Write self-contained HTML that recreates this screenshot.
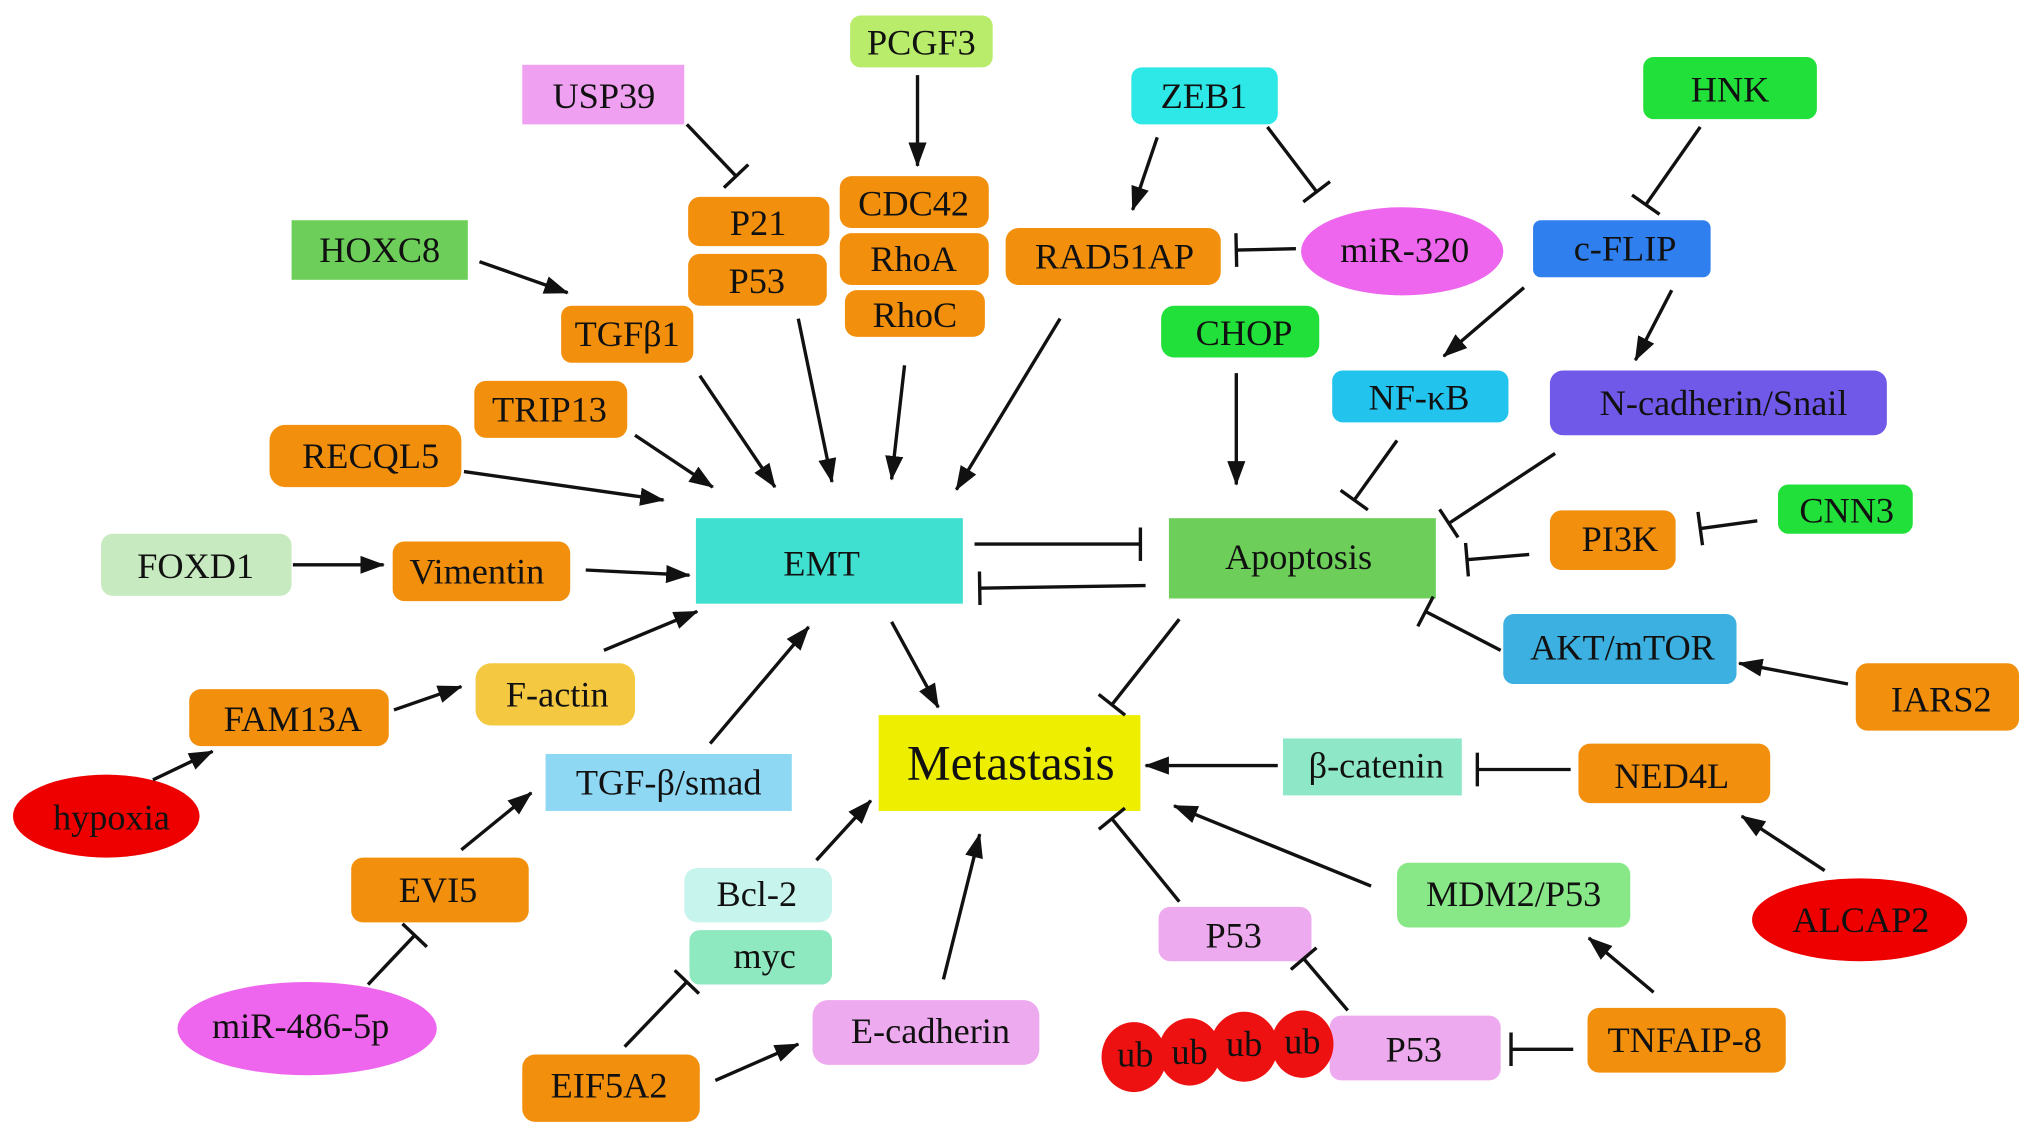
<!DOCTYPE html>
<html><head><meta charset="utf-8"><style>
html,body{margin:0;padding:0;background:#fff;}
svg{display:block;}
text{font-family:"Liberation Serif",serif;font-size:28px;fill:#111;text-anchor:middle;dominant-baseline:central;}
line{stroke:#111;stroke-width:2.6;}
</style></head><body>
<svg width="2032" height="1140" viewBox="0 0 1568 880" preserveAspectRatio="none" xmlns="http://www.w3.org/2000/svg">
<defs>
<marker id="a" markerUnits="userSpaceOnUse" markerWidth="20" markerHeight="16" refX="18" refY="8" orient="auto"><path d="M0,1 L19,8 L0,15 Z" fill="#111"/></marker>
<marker id="b" markerUnits="userSpaceOnUse" markerWidth="6" markerHeight="26" refX="3" refY="13" orient="auto"><path d="M3,0 L3,26" stroke="#111" stroke-width="2.6"/></marker>
</defs>
<g>
<!-- nodes -->
<rect x="403" y="50" width="125" height="46" fill="#f0a0f0"/><text x="466" y="74">USP39</text>
<rect x="656" y="12" width="110" height="40" rx="8" fill="#b8ec6a"/><text x="711" y="33">PCGF3</text>
<rect x="873" y="52" width="113" height="44" rx="8" fill="#2ee8e8"/><text x="929" y="74">ZEB1</text>
<rect x="1268" y="44" width="134" height="48" rx="8" fill="#22e03a"/><text x="1335" y="69">HNK</text>
<rect x="531" y="152" width="109" height="38" rx="9" fill="#f2900e"/><text x="585" y="172">P21</text>
<rect x="531" y="196" width="107" height="40" rx="9" fill="#f2900e"/><text x="584" y="217">P53</text>
<rect x="648" y="136" width="115" height="40" rx="9" fill="#f2900e"/><text x="705" y="157">CDC42</text>
<rect x="648" y="180" width="115" height="40" rx="9" fill="#f2900e"/><text x="705" y="200">RhoA</text>
<rect x="652" y="224" width="108" height="36" rx="9" fill="#f2900e"/><text x="706" y="243">RhoC</text>
<rect x="225" y="170" width="136" height="46" fill="#6dcf5a"/><text x="293" y="193">HOXC8</text>
<rect x="433" y="236" width="102" height="44" rx="8" fill="#f2900e"/><text x="484" y="258">TGFβ1</text>
<rect x="776" y="176" width="166" height="44" rx="10" fill="#f2900e"/><text x="860" y="198">RAD51AP</text>
<ellipse cx="1082" cy="194" rx="78" ry="34" fill="#ee66ee"/><text x="1084" y="193">miR-320</text>
<rect x="1183" y="170" width="137" height="44" rx="6" fill="#2f7fef"/><text x="1254" y="192">c-FLIP</text>
<rect x="896" y="236" width="122" height="40" rx="10" fill="#22e03a"/><text x="960" y="257">CHOP</text>
<rect x="1028" y="286" width="136" height="40" rx="8" fill="#22c4ee"/><text x="1095" y="307">NF-κB</text>
<rect x="1196" y="286" width="260" height="50" rx="10" fill="#7058e8"/><text x="1330" y="311">N-cadherin/Snail</text>
<rect x="366" y="294" width="118" height="44" rx="9" fill="#f2900e"/><text x="424" y="316">TRIP13</text>
<rect x="208" y="328" width="148" height="48" rx="12" fill="#f2900e"/><text x="286" y="352">RECQL5</text>
<rect x="78" y="412" width="147" height="48" rx="9" fill="#c8eac0"/><text x="151" y="437">FOXD1</text>
<rect x="303" y="418" width="137" height="46" rx="9" fill="#f2900e"/><text x="368" y="441">Vimentin</text>
<rect x="537" y="400" width="206" height="66" fill="#40e0d0"/><text x="634" y="435">EMT</text>
<rect x="902" y="400" width="206" height="62" fill="#6dcf5a"/><text x="1002" y="430">Apoptosis</text>
<rect x="1372" y="374" width="104" height="38" rx="8" fill="#22e03a"/><text x="1425" y="394">CNN3</text>
<rect x="1196" y="394" width="97" height="46" rx="9" fill="#f2900e"/><text x="1250" y="416">PI3K</text>
<rect x="1160" y="474" width="180" height="54" rx="8" fill="#3cb0e0"/><text x="1252" y="500">AKT/mTOR</text>
<rect x="1432" y="512" width="126" height="52" rx="9" fill="#f2900e"/><text x="1498" y="540">IARS2</text>
<rect x="367" y="512" width="123" height="48" rx="12" fill="#f5c842"/><text x="430" y="536">F-actin</text>
<rect x="146" y="532" width="154" height="44" rx="9" fill="#f2900e"/><text x="226" y="555">FAM13A</text>
<ellipse cx="82" cy="630" rx="72" ry="32" fill="#ee0000"/><text x="86" y="631">hypoxia</text>
<rect x="421" y="582" width="190" height="44" fill="#8fd8f4"/><text x="516" y="604">TGF-β/smad</text>
<rect x="678" y="552" width="202" height="74" fill="#eeee00"/><text x="780" y="589" style="font-size:38px">Metastasis</text>
<rect x="990" y="570" width="138" height="44" fill="#8ee8c8"/><text x="1062" y="591">β-catenin</text>
<rect x="1218" y="574" width="148" height="46" rx="9" fill="#f2900e"/><text x="1290" y="599">NED4L</text>
<ellipse cx="1435" cy="710" rx="83" ry="32" fill="#ee0000"/><text x="1436" y="710">ALCAP2</text>
<rect x="271" y="662" width="137" height="50" rx="9" fill="#f2900e"/><text x="338" y="687">EVI5</text>
<rect x="528" y="670" width="114" height="42" rx="10" fill="#c8f4ee"/><text x="584" y="690">Bcl-2</text>
<rect x="532" y="718" width="110" height="42" rx="8" fill="#8ee8c0"/><text x="590" y="738">myc</text>
<rect x="1078" y="666" width="180" height="50" rx="9" fill="#88e888"/><text x="1168" y="690">MDM2/P53</text>
<rect x="894" y="700" width="118" height="42" rx="9" fill="#eeaaee"/><text x="952" y="722">P53</text>
<ellipse cx="237" cy="794" rx="100" ry="36" fill="#ee66ee"/><text x="232" y="792">miR-486-5p</text>
<rect x="627" y="772" width="175" height="50" rx="12" fill="#eeaaee"/><text x="718" y="796">E-cadherin</text>
<rect x="403" y="814" width="137" height="52" rx="10" fill="#f2900e"/><text x="470" y="838">EIF5A2</text>
<rect x="1026" y="784" width="132" height="50" rx="9" fill="#eeaaee"/><text x="1091" y="810">P53</text>
<ellipse cx="875" cy="816" rx="25" ry="27" fill="#ee1111"/><text x="876" y="814">ub</text>
<ellipse cx="918" cy="812" rx="24" ry="26" fill="#ee1111"/><text x="918" y="812">ub</text>
<ellipse cx="960" cy="808" rx="26" ry="27" fill="#ee1111"/><text x="960" y="806">ub</text>
<ellipse cx="1005" cy="806" rx="24" ry="26" fill="#ee1111"/><text x="1005" y="804">ub</text>
<rect x="1225" y="778" width="153" height="50" rx="9" fill="#f2900e"/><text x="1300" y="803">TNFAIP-8</text>
</g>
<g>
<!-- arrows -->
<line x1="530" y1="96" x2="568" y2="136" marker-end="url(#b)"/>
<line x1="708" y1="58" x2="708" y2="128" marker-end="url(#a)"/>
<line x1="893" y1="106" x2="874" y2="162" marker-end="url(#a)"/>
<line x1="978" y1="98" x2="1016" y2="148" marker-end="url(#b)"/>
<line x1="1312" y1="98" x2="1270" y2="158" marker-end="url(#b)"/>
<line x1="370" y1="202" x2="438" y2="226" marker-end="url(#a)"/>
<line x1="1000" y1="192" x2="954" y2="193" marker-end="url(#b)"/>
<line x1="1176" y1="222" x2="1114" y2="275" marker-end="url(#a)"/>
<line x1="1290" y1="224" x2="1262" y2="278" marker-end="url(#a)"/>
<line x1="954" y1="288" x2="954" y2="374" marker-end="url(#a)"/>
<line x1="1078" y1="340" x2="1045" y2="386" marker-end="url(#b)"/>
<line x1="1200" y1="350" x2="1118" y2="404" marker-end="url(#b)"/>
<line x1="540" y1="290" x2="598" y2="376" marker-end="url(#a)"/>
<line x1="616" y1="246" x2="642" y2="372" marker-end="url(#a)"/>
<line x1="698" y1="282" x2="688" y2="370" marker-end="url(#a)"/>
<line x1="818" y1="246" x2="738" y2="378" marker-end="url(#a)"/>
<line x1="490" y1="336" x2="550" y2="376" marker-end="url(#a)"/>
<line x1="358" y1="364" x2="512" y2="386" marker-end="url(#a)"/>
<line x1="226" y1="436" x2="296" y2="436" marker-end="url(#a)"/>
<line x1="452" y1="440" x2="532" y2="444" marker-end="url(#a)"/>
<line x1="752" y1="420" x2="880" y2="420" marker-end="url(#b)"/>
<line x1="884" y1="452" x2="756" y2="454" marker-end="url(#b)"/>
<line x1="1356" y1="402" x2="1312" y2="408" marker-end="url(#b)"/>
<line x1="1180" y1="428" x2="1132" y2="432" marker-end="url(#b)"/>
<line x1="1158" y1="502" x2="1100" y2="472" marker-end="url(#b)"/>
<line x1="1426" y1="528" x2="1342" y2="512" marker-end="url(#a)"/>
<line x1="466" y1="502" x2="538" y2="472" marker-end="url(#a)"/>
<line x1="304" y1="548" x2="356" y2="530" marker-end="url(#a)"/>
<line x1="118" y1="602" x2="164" y2="580" marker-end="url(#a)"/>
<line x1="548" y1="574" x2="624" y2="484" marker-end="url(#a)"/>
<line x1="688" y1="480" x2="724" y2="546" marker-end="url(#a)"/>
<line x1="910" y1="478" x2="858" y2="544" marker-end="url(#b)"/>
<line x1="986" y1="591" x2="884" y2="591" marker-end="url(#a)"/>
<line x1="1212" y1="594" x2="1140" y2="594" marker-end="url(#b)"/>
<line x1="1408" y1="672" x2="1344" y2="630" marker-end="url(#a)"/>
<line x1="356" y1="656" x2="410" y2="612" marker-end="url(#a)"/>
<line x1="284" y1="760" x2="320" y2="722" marker-end="url(#b)"/>
<line x1="630" y1="664" x2="672" y2="618" marker-end="url(#a)"/>
<line x1="728" y1="756" x2="756" y2="644" marker-end="url(#a)"/>
<line x1="910" y1="696" x2="858" y2="632" marker-end="url(#b)"/>
<line x1="1058" y1="684" x2="906" y2="622" marker-end="url(#a)"/>
<line x1="482" y1="808" x2="530" y2="758" marker-end="url(#b)"/>
<line x1="552" y1="834" x2="616" y2="806" marker-end="url(#a)"/>
<line x1="1040" y1="780" x2="1006" y2="740" marker-end="url(#b)"/>
<line x1="1276" y1="766" x2="1226" y2="724" marker-end="url(#a)"/>
<line x1="1214" y1="810" x2="1166" y2="810" marker-end="url(#b)"/>
</g>
</svg>
</body></html>
